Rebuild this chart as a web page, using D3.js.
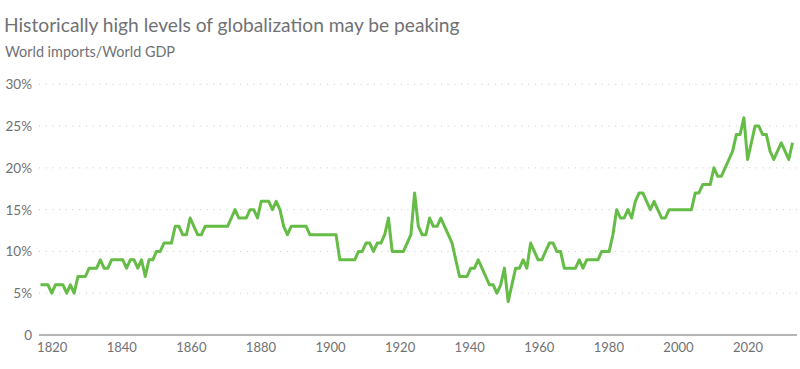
<!DOCTYPE html>
<html>
<head>
<meta charset="utf-8">
<script src="https://cdn.jsdelivr.net/npm/d3@7"></script>
<style>
  html, body { margin: 0; padding: 0; background: #fff; }
  svg { display: block; }
</style>
</head>
<body>
<div id="chart"></div>
<script>
const title = "Historically high levels of globalization may be peaking";
const subtitle = "World imports/World GDP";

const firstYear = 1820;
const values = [
  6,6,6,5,6,6,6,5,6,5,          // 1820-1829
  7,7,7,8,8,8,9,8,8,9,          // 1830-1839
  9,9,9,8,9,9,8,9,7,9,          // 1840-1849
  9,10,10,11,11,11,13,13,12,12, // 1850-1859
  14,13,12,12,13,13,13,13,13,13,// 1860-1869
  13,14,15,14,14,14,15,15,14,16,// 1870-1879
  16,16,15,16,15,13,12,13,13,13,// 1880-1889
  13,13,12,12,12,12,12,12,12,12,// 1890-1899
  9,9,9,9,9,10,10,11,11,10,     // 1900-1909
  11,11,12,14,10,10,10,10,11,12,// 1910-1919
  17,13,12,12,14,13,13,14,13,12,// 1920-1929
  11,9,7,7,7,8,8,9,8,7,         // 1930-1939
  6,6,5,6,8,4,6,8,8,9,          // 1940-1949
  8,11,10,9,9,10,11,11,10,10,   // 1950-1959
  8,8,8,8,9,8,9,9,9,9,          // 1960-1969
  10,10,10,12,15,14,14,15,14,16,// 1970-1979
  17,17,16,15,16,15,14,14,15,15,// 1980-1989
  15,15,15,15,15,17,17,18,18,18,// 1990-1999
  20,19,19,20,21,22,24,24,26,21,// 2000-2009
  23,25,25,24,24,22,21,22,23,22,// 2010-2019
  21,23                         // 2020-2021
];
const years = values.map((v, i) => firstYear + i);

const yTicks = [0, 5, 10, 15, 20, 25, 30];
const yTickLabels = ["0", "5%", "10%", "15%", "20%", "25%", "30%"];
const xTickYears = [1820, 1840, 1860, 1880, 1900, 1920, 1940, 1960, 1980, 2000, 2020];

const W = 800, H = 369;
const svg = d3.select("#chart").append("svg").attr("width", W).attr("height", H);

const FONT = "Lato, 'Open Sans', sans-serif";
const TXT = "#707174";

// Titles
svg.append("text").attr("x", 4).attr("y", 32)
  .attr("font-family", FONT).attr("font-size", 19.2).attr("fill", TXT)
  .text(title);
svg.append("text").attr("x", 5).attr("y", 57)
  .attr("font-family", FONT).attr("font-size", 14.4).attr("fill", TXT)
  .text(subtitle);

// Scales
const y = d3.scaleLinear().domain([0, 30]).range([335, 84.3]);
const xData = d3.scaleLinear().domain([years[0], years[years.length - 1]]).range([40.5, 792.5]);
const xAxisScale = d3.scaleLinear().domain([1820, 2020]).range([51.7, 747.5]);

const plotLeft = 39, plotRight = 797;

// Gridlines
svg.append("g").selectAll("line")
  .data(yTicks.filter(d => d > 0))
  .join("line")
  .attr("x1", plotLeft).attr("x2", plotRight)
  .attr("y1", d => y(d)).attr("y2", d => y(d))
  .attr("stroke", "#c8c8c8").attr("stroke-width", 1)
  .attr("stroke-dasharray", "1,5.7");

// Y labels
svg.append("g").selectAll("text")
  .data(yTicks)
  .join("text")
  .attr("x", 32).attr("y", d => y(d))
  .attr("dy", "0.36em")
  .attr("text-anchor", "end")
  .attr("font-family", FONT).attr("font-size", 13.5).attr("fill", TXT)
  .text((d, i) => yTickLabels[i]);

// Zero axis line
svg.append("line")
  .attr("x1", plotLeft).attr("x2", plotRight)
  .attr("y1", y(0)).attr("y2", y(0))
  .attr("stroke", "#b5b5b5").attr("stroke-width", 2);

// X axis labels
const xAxis = d3.axisBottom(xAxisScale).tickValues(xTickYears).tickFormat(d3.format("d")).tickSize(0).tickPadding(0);
const gx = svg.append("g").attr("transform", `translate(0, 341)`).call(xAxis);
gx.select(".domain").remove();
gx.selectAll("text")
  .attr("font-family", FONT).attr("font-size", 13).attr("fill", TXT)
  .attr("dy", "0.85em");

// Line
const line = d3.line()
  .x((d, i) => xData(years[i]))
  .y(d => y(d));
svg.append("path")
  .datum(values)
  .attr("d", line)
  .attr("fill", "none")
  .attr("stroke", "#65bc46")
  .attr("stroke-width", 3)
  .attr("stroke-linejoin", "round");
</script>
</body>
</html>
